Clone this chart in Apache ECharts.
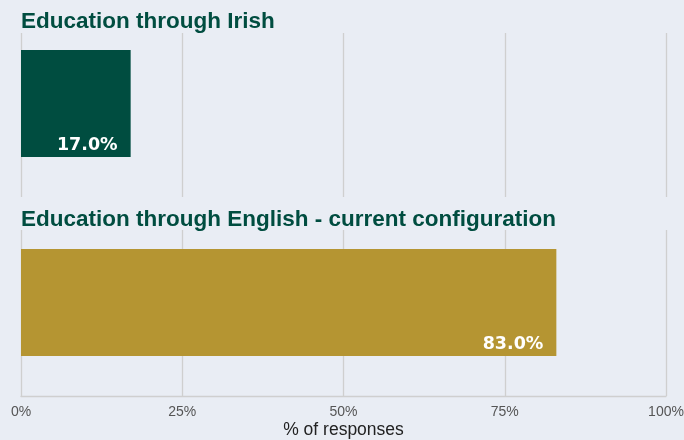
<!DOCTYPE html>
<html><head><meta charset="utf-8">
<script src="https://cdn.jsdelivr.net/npm/echarts@6/dist/echarts.min.js"></script>
<style>html,body{margin:0;padding:0;background:#e9edf4;}#c{width:684px;height:440px;}</style>
</head><body><div id="c"></div>
<script>
const panelTitles = ['Education through Irish', 'Education through English - current configuration'];
const panelValues = [17.0, 83.0];
const panelColors = ['#004d40', '#b59532'];
const tickValues = [0, 25, 50, 75, 100];
const axisName = '% of responses';

const FONT = "'Liberation Sans', Arial, sans-serif";
const chart = echarts.init(document.getElementById('c'));
const L = 21, R = 18;
const grids = [
  {left: L, right: R, top: 33, height: 164},
  {left: L, right: R, top: 33, height: 141},
  {left: L, right: R, top: 230, height: 166},
  {left: L, right: R, top: 230, height: 145}
].map(g => Object.assign(g, {outerBoundsMode: 'none', containLabel: false}));
const xAxes = grids.map((g, i) => ({
  type: 'value', gridIndex: i, min: tickValues[0], max: tickValues[tickValues.length-1], interval: 25,
  splitLine: {show: i % 2 === 0, lineStyle: {color: '#cfcfcf', width: 1.3}},
  axisLine: {show: i === 2, lineStyle: {color: '#cfcfcf', width: 1.3}},
  axisTick: {show: false},
  axisLabel: {show: i === 2, formatter: v => v + '%', color: '#555', fontSize: 14, fontFamily: FONT, margin: 9},
  name: i === 2 ? axisName : '', nameLocation: 'middle', nameGap: 25,
  nameTextStyle: {color: '#222', fontSize: 17.5, fontFamily: FONT}
}));
const yAxes = grids.map((g, i) => ({
  type: 'category', gridIndex: i, data: [panelTitles[Math.floor(i/2)]],
  show: false
}));
const series = [0, 1].map(p => ({
  type: 'bar', xAxisIndex: p*2+1, yAxisIndex: p*2+1,
  data: [panelValues[p]], barWidth: 107,
  itemStyle: {color: panelColors[p]},
  label: {show: true, position: 'insideBottomRight', distance: 6, offset: [-7, 3],
    formatter: v => v.value.toFixed(1) + '%', color: '#fff', fontWeight: 'bold', fontSize: 17.5,
    fontFamily: "'DejaVu Sans', Verdana, sans-serif"},
  silent: true
}));
chart.setOption({
  backgroundColor: '#e9edf4',
  animation: false,
  title: panelTitles.map((t, i) => ({
    text: t, left: 16, top: i === 0 ? 5 : 203,
    textStyle: {color: '#004d40', fontSize: 22.5, fontWeight: 'bold', fontFamily: FONT}
  })),
  grid: grids,
  xAxis: xAxes,
  yAxis: yAxes,
  series: series
});
</script></body></html>
